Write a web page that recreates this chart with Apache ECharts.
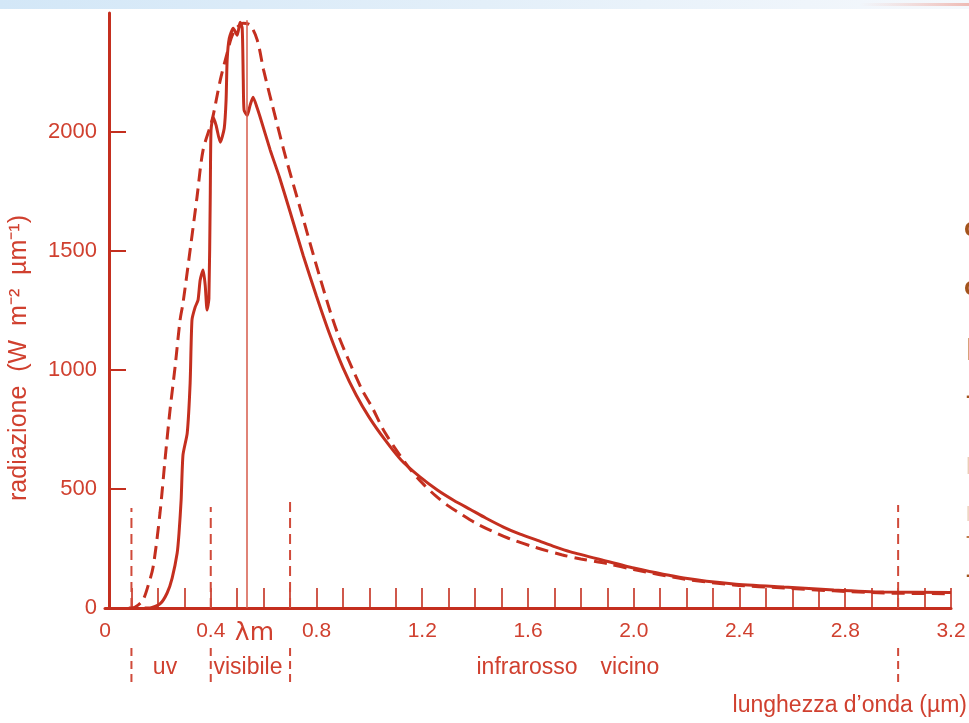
<!DOCTYPE html>
<html><head><meta charset="utf-8">
<script src="https://cdn.jsdelivr.net/npm/echarts@6/dist/echarts.min.js"></script>
<style>html,body{margin:0;padding:0;background:#fff}#c{width:969px;height:723px}</style>
</head><body><div id="c"></div>
<script>
// ---- data ----
const measuredX = [0.15,0.17,0.208,0.235,0.254,0.273,0.280,0.288,0.295,0.311,0.322,0.329,0.341,0.352,0.360,0.371,0.379,0.386,0.393,0.398,0.401,0.409,0.420,0.436,0.451,0.458,0.462,0.470,0.485,0.500,0.511,0.519,0.523,0.526,0.538,0.549,0.560,0.576,0.587,0.625,0.660,0.700,0.750,0.800,0.850,0.900,0.950,1.000,1.060,1.120,1.190,1.257,1.320,1.382,1.440,1.507,1.570,1.636,1.700,1.761,1.886,2.000,2.189,2.378,2.568,2.757,2.946,3.200];
const measuredY = [0,0,17,63,126,231,315,454,643,735,945,1210,1264,1294,1378,1420,1357,1252,1300,1714,2008,2062,2029,1957,2016,2134,2302,2394,2436,2407,2461,2436,2218,2092,2070,2113,2146,2100,2062,1924,1810,1665,1480,1310,1150,1010,895,800,705,622,552,496,452,414,378,340,310,284,258,236,200,168,126,101,88,76,67,65];
const blackbodyX = [0.09,0.102,0.125,0.144,0.162,0.182,0.208,0.227,0.246,0.265,0.284,0.295,0.322,0.348,0.371,0.405,0.436,0.462,0.485,0.523,0.549,0.576,0.600,0.629,0.682,0.746,0.810,0.878,0.969,1.010,1.060,1.148,1.200,1.250,1.300,1.350,1.400,1.460,1.526,1.630,1.727,1.800,1.900,2.000,2.189,2.378,2.568,2.757,2.946,3.200];
const blackbodyY = [0,0,12,34,90,172,399,622,832,1012,1210,1281,1504,1726,1924,2050,2218,2331,2415,2457,2449,2386,2260,2130,1900,1650,1400,1160,924,844,735,592,525,472,428,392,358,325,293,254,224,206,186,162,122,97,84,72,63,60];
const xTickValues = [0.1,0.2,0.3,0.4,0.5,0.6,0.7,0.8,0.9,1.0,1.1,1.2,1.3,1.4,1.5,1.6,1.7,1.8,1.9,2.0,2.1,2.2,2.3,2.4,2.5,2.6,2.7,2.8,2.9,3.0,3.1,3.2];
const xLabelValues = [0,0.4,0.8,1.2,1.6,2.0,2.4,2.8,3.2];
const yLabelValues = [0,500,1000,1500,2000];
const yTickValues = [500,1000,1500,2000];
const lambdaM = 0.535;
const lambdaTop = 2470;
const bandEdges = [0.1,0.4,0.7,3.0];
const bandTop = [420,424,454,433];
const bandBelow = [-168,-311];
const bandNames = ['uv','visibile','infrarosso','vicino'];
const yName = 'radiazione  (W  m⁻²  µm⁻¹)';
const xName = 'lunghezza d’onda (µm)';

// ---- chart ----
const red = '#c42f1f';
const txt = '#d0402f';
const font = '"Liberation Sans", Arial, sans-serif';
const chart = echarts.init(document.getElementById('c'), null, {renderer:'canvas'});

const pair = (xs, ys) => xs.map((x, i) => [x, ys[i]]);

const option = {
  animation: false,
  backgroundColor: '#ffffff',
  grid: {left: 105, right: 18, top: 13, bottom: 115},
  xAxis: {
    type: 'value', min: 0, max: 3.2,
    axisLine: {show: true, onZero: false, lineStyle: {color: red, width: 3}},
    axisTick: {show: true, inside: true, length: 20, customValues: xTickValues, lineStyle: {color: red, width: 1.6}},
    axisLabel: {
      customValues: xLabelValues.concat([lambdaM]),
      color: txt, fontSize: 21, fontFamily: font, margin: 13,
      formatter: v => Math.abs(v - lambdaM) < 1e-6 ? '{lm|λm}' : (v === 0 ? '0' : v.toFixed(1)),
      rich: {lm: {fontSize: 25, color: txt, fontFamily: '"DejaVu Sans", sans-serif', padding: [0,0,0,16]}}
    },
    splitLine: {show: false}
  },
  yAxis: {
    type: 'value', min: 0, max: 2500, offset: -4,
    axisLine: {show: true, lineStyle: {color: red, width: 3}},
    axisTick: {show: true, inside: true, length: 17, customValues: yTickValues, lineStyle: {color: red, width: 2}},
    axisLabel: {customValues: yLabelValues, color: txt, fontSize: 22, fontFamily: font, margin: 12, formatter: v => String(v)},
    splitLine: {show: false}
  },
  series: [
    {
      type: 'line', name: 'misurata', data: pair(measuredX, measuredY),
      symbol: 'none', smooth: 0.2, z: 4,
      lineStyle: {color: red, width: 3},
      markLine: {
        silent: true, symbol: 'none', label: {show: false},
        lineStyle: {color: '#d65a4a', width: 1.5, type: 'solid'},
        data: [[{coord: [lambdaM, 0]}, {coord: [lambdaM, lambdaTop]}]]
      }
    },
    {
      type: 'line', name: 'corpo nero', data: pair(blackbodyX, blackbodyY),
      symbol: 'none', smooth: 0.3, z: 3,
      lineStyle: {color: red, width: 3, type: [13, 7]}
    },
    {
      type: 'custom', name: 'bande', clip: false, silent: true,
      data: pair(bandEdges, bandTop),
      renderItem: (params, api) => {
        const x = api.value(0), top = api.value(1);
        const p0 = api.coord([x, 0]), p1 = api.coord([x, top]);
        const q0 = api.coord([x, bandBelow[0]]), q1 = api.coord([x, bandBelow[1]]);
        const st = {stroke: '#d04a3a', lineWidth: 2, lineDash: [10, 6]};
        return {type: 'group', children: [
          {type: 'line', shape: {x1: p0[0], y1: p0[1], x2: p1[0], y2: p1[1]}, style: st},
          {type: 'line', shape: {x1: q0[0], y1: q0[1], x2: q1[0], y2: q1[1]}, style: {stroke: '#d04a3a', lineWidth: 2, lineDash: [8, 5]}}
        ]};
      }
    }
  ],
  graphic: [
    {type: 'rect', left: 0, top: 0, z: 10, shape: {width: 969, height: 9},
     style: {fill: new echarts.graphic.LinearGradient(0, 0, 1, 0, [
       {offset: 0, color: '#d3e7f7'}, {offset: 0.5, color: '#e3eff9'}, {offset: 1, color: '#f5f8fc'}])}},
    {type: 'rect', left: 860, top: 3, z: 11, shape: {width: 109, height: 3},
     style: {fill: new echarts.graphic.LinearGradient(0, 0, 1, 0, [
       {offset: 0, color: 'rgba(240,180,170,0)'}, {offset: 1, color: 'rgba(235,160,150,0.7)'}])}},
    {type: 'text', x: 19, y: 358, rotation: Math.PI / 2, z: 10,
     style: {text: yName, fill: txt, font: '25px "Liberation Sans", Arial, sans-serif', align: 'center', verticalAlign: 'middle'}},
    {type: 'text', x: 165, y: 668, z: 10, style: {text: bandNames[0], fill: txt, font: '23px "Liberation Sans", Arial, sans-serif', align: 'center', verticalAlign: 'middle'}},
    {type: 'text', x: 248, y: 668, z: 10, style: {text: bandNames[1], fill: txt, font: '23px "Liberation Sans", Arial, sans-serif', align: 'center', verticalAlign: 'middle'}},
    {type: 'text', x: 527, y: 668, z: 10, style: {text: bandNames[2], fill: txt, font: '23px "Liberation Sans", Arial, sans-serif', align: 'center', verticalAlign: 'middle'}},
    {type: 'text', x: 630, y: 668, z: 10, style: {text: bandNames[3], fill: txt, font: '23px "Liberation Sans", Arial, sans-serif', align: 'center', verticalAlign: 'middle'}},
    {type: 'text', x: 967, y: 706, z: 10, style: {text: xName, fill: txt, font: '23px "Liberation Sans", Arial, sans-serif', align: 'right', verticalAlign: 'middle'}},
    // clipped slide text at the right edge
    {type: 'text', x: 964, y: 229, z: 10, style: {text: 'c', fill: '#a3531b', font: 'bold 26px "Liberation Sans", Arial', verticalAlign: 'middle'}},
    {type: 'text', x: 964, y: 288, z: 10, style: {text: 'c', fill: '#a3531b', font: 'bold 26px "Liberation Sans", Arial', verticalAlign: 'middle'}},
    {type: 'text', x: 966, y: 352, z: 10, style: {text: 'l', fill: '#d7a27a', font: '30px "Liberation Sans", Arial', verticalAlign: 'middle'}},
    {type: 'text', x: 966, y: 396, z: 10, style: {text: '-', fill: '#a3531b', font: 'bold 20px "Liberation Sans", Arial', verticalAlign: 'middle'}},
    {type: 'text', x: 966, y: 467, z: 10, style: {text: 'l', fill: '#ebcdb7', font: '24px "Liberation Sans", Arial', verticalAlign: 'middle'}},
    {type: 'text', x: 966, y: 515, z: 10, style: {text: 'l', fill: '#eed6c4', font: '20px "Liberation Sans", Arial', verticalAlign: 'middle'}},
    {type: 'text', x: 966, y: 537, z: 10, style: {text: '-', fill: '#c07a48', font: 'bold 16px "Liberation Sans", Arial', verticalAlign: 'middle'}},
    {type: 'text', x: 966, y: 575, z: 10, style: {text: '-', fill: '#a3531b', font: 'bold 20px "Liberation Sans", Arial', verticalAlign: 'middle'}}
  ]
};
chart.setOption(option);
</script>
</body></html>
